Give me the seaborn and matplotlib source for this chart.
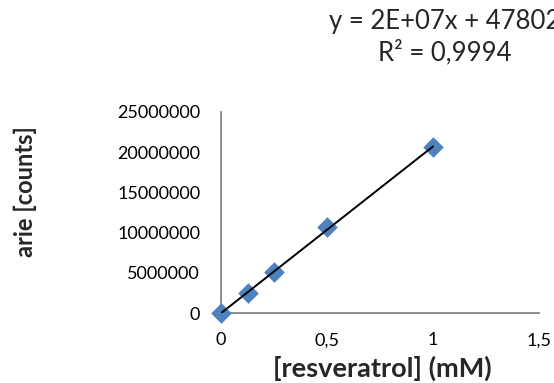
import seaborn as sns
import matplotlib.pyplot as plt

# concentrations (mM) and measured peak areas (counts)
conc = [0, 0.125, 0.25, 0.5, 1.0]
area = [0, 2450000, 5060000, 10660000, 20600000]

x_ticks = [0, 0.5, 1, 1.5]
x_ticklabels = ['0', '0,5', '1', '1,5']
y_ticks = [0, 5000000, 10000000, 15000000, 20000000, 25000000]

eq_text = 'y = 2E+07x + 47802'
r2_text = 'R² = 0,9994'

sns.set_style('white')
plt.rcParams['font.family'] = ['Lato', 'DejaVu Sans']

fig = plt.figure(figsize=(5.54, 3.83), dpi=100)
ax = fig.add_axes([221 / 554, 70 / 383, 318 / 554, 201 / 383])

sns.regplot(x=conc, y=area, ax=ax, ci=None, marker='D',
            scatter_kws={'color': '#4F81BD', 's': 110, 'alpha': 1,
                         'linewidths': 0, 'clip_on': False, 'zorder': 3},
            line_kws={'color': 'black', 'lw': 1.4, 'zorder': 4})

ax.set_xlim(0, 1.5)
ax.set_ylim(0, 25000000)
ax.set_xticks(x_ticks)
ax.set_xticklabels(x_ticklabels)
ax.set_yticks(y_ticks)
ax.set_yticklabels([str(v) for v in y_ticks])
ax.tick_params(axis='both', length=0, labelsize=13, colors='black')
ax.tick_params(axis='y', pad=15)
ax.tick_params(axis='x', pad=14)

for side in ['top', 'right']:
    ax.spines[side].set_visible(False)
for side in ['left', 'bottom']:
    ax.spines[side].set_color('#868686')
    ax.spines[side].set_linewidth(1.3)

ax.set_xlabel('[resveratrol] (mM)', fontsize=19.5, fontweight='bold')
ax.xaxis.label.set_va('center')
ax.xaxis.set_label_coords(0.506, -0.274)
ax.set_ylabel('arie [counts]', fontsize=17, fontweight='bold')
ax.yaxis.label.set_va('center')
ax.yaxis.set_label_coords(-0.616, 0.602)

# trendline label (cut off at the right edge, as in the original chart)
fig.text(445 / 554, 1 - 22 / 383, eq_text, ha='center', va='center', fontsize=18.5)
fig.text(445 / 554, 1 - 52 / 383, r2_text, ha='center', va='center', fontsize=18.5)

fig.savefig('out.png', dpi=100)
